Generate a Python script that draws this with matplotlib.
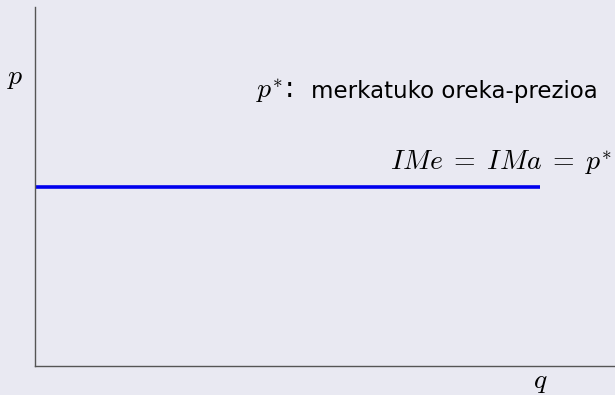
import matplotlib.pyplot as plt

plt.rcParams['mathtext.fontset'] = 'cm'

# market price line (perfect competition)
q_vals = [0, 8.7]
p_vals = [5.0, 5.0]
p_star = 5.0
line_label = r'$IMe\;=\;IMa\;=\;p^{*}$'
note_symbol = r'$p^{*}$:'
note_text = 'merkatuko oreka-prezioa'

bg = '#e9e9f2'
fig = plt.figure(figsize=(6.15, 3.95), dpi=100, facecolor=bg)
ax = fig.add_axes([35 / 615, 29 / 395, 580 / 615, 359 / 395])
ax.set_facecolor(bg)

ax.plot(q_vals, p_vals, color='#0000ee', lw=2.6, solid_capstyle='butt')

ax.set_xlim(0, 10)
ax.set_ylim(0, 10)
for side in ['top', 'right']:
    ax.spines[side].set_visible(False)
for side in ['left', 'bottom']:
    ax.spines[side].set_color('#555555')
    ax.spines[side].set_linewidth(1.0)
ax.set_xticks([])
ax.set_yticks([])

ax.text(9.95, p_star + 0.45, line_label, ha='right', va='baseline', fontsize=20)

# note: p* in math, rest in sans
ax.text(3.81, 7.47, note_symbol, ha='left', va='baseline', fontsize=20,
        family='DejaVu Sans')
ax.text(9.71, 7.47, note_text, ha='right', va='baseline', fontsize=16.5,
        family='DejaVu Sans')

fig.text(15 / 615, 1 - 77 / 395, r'$p$', ha='center', va='center', fontsize=20)
fig.text(540 / 615, 1 - 381 / 395, r'$q$', ha='center', va='center', fontsize=20)

fig.savefig('out.png', dpi=100, facecolor=bg)
